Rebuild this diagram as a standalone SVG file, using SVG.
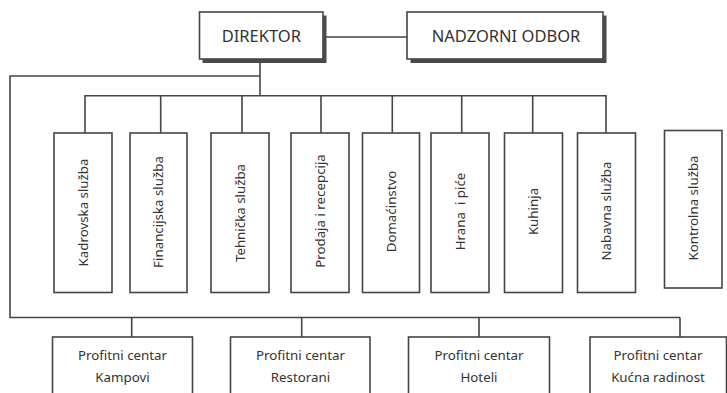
<svg xmlns="http://www.w3.org/2000/svg" width="727" height="393" viewBox="0 0 727 393">
<style>
.box{fill:#fff;stroke:#454545;stroke-width:1.6}
.shadow{fill:#4a4a4a}
.line{fill:none;stroke:#454545;stroke-width:1.6}
text{font-family:"Noto Sans","Open Sans","Liberation Sans",sans-serif;fill:#333}
.top{font-size:16.5px;text-anchor:middle}
.v{font-size:13.3px;text-anchor:middle}
.pc{font-size:13.3px;text-anchor:middle}
</style>
<rect width="727" height="393" fill="#fff"/>
<g id="connectors">
<path class="line" d="M323 37H407"/>
<path class="line" d="M260 59V95.7"/>
<path class="line" d="M260 76H10V317.5H680"/>
<path class="line" d="M85 133V95.7H606V133"/>
<path class="line" d="M160.7 95.7V133M242 95.7V133M321 95.7V133M392.3 95.7V133M461.7 95.7V133M532.7 95.7V133"/>
<path class="line" d="M131.7 317.5V337M301.7 317.5V337M479 317.5V337M680 317.5V337"/>
</g>
<g id="direktor">
<rect class="shadow" x="202.5" y="15.5" width="124" height="47.5"/>
<rect class="box" x="199.5" y="12" width="123.5" height="47"/>
<text class="top" x="261.3" y="41.5">DIREKTOR</text>
</g>
<g id="nadzorni-odbor">
<rect class="shadow" x="410.5" y="15.5" width="196" height="47.5"/>
<rect class="box" x="407" y="12" width="196" height="47"/>
<text class="top" x="506" y="41.5">NADZORNI ODBOR</text>
</g>
<g id="kadrovska">
<rect class="box" x="54" y="133" width="58" height="159.5"/>
<text class="v" transform="translate(88 212.5) rotate(-90)">Kadrovska služba</text>
</g>
<g id="financijska">
<rect class="box" x="130" y="133" width="57" height="159.5"/>
<text class="v" transform="translate(163 212) rotate(-90)">Financijska služba</text>
</g>
<g id="tehnicka">
<rect class="box" x="211" y="133" width="58" height="159.5"/>
<text class="v" transform="translate(244.5 213) rotate(-90)">Tehnička služba</text>
</g>
<g id="prodaja">
<rect class="box" x="291" y="133" width="58" height="159.5"/>
<text class="v" transform="translate(324.5 211) rotate(-90)">Prodaja i recepcija</text>
</g>
<g id="domacinstvo">
<rect class="box" x="362.5" y="133" width="57" height="159.5"/>
<text class="v" transform="translate(395.5 211.5) rotate(-90)">Domaćinstvo</text>
</g>
<g id="hrana">
<rect class="box" x="431" y="133" width="58" height="159.5"/>
<text class="v" transform="translate(464.5 211.5) rotate(-90)" xml:space="preserve">Hrana  i piće</text>
</g>
<g id="kuhinja">
<rect class="box" x="504.5" y="133" width="58" height="159.5"/>
<text class="v" transform="translate(538 211.5) rotate(-90)">Kuhinja</text>
</g>
<g id="nabavna">
<rect class="box" x="577.5" y="133" width="58" height="159.5"/>
<text class="v" transform="translate(611 211) rotate(-90)">Nabavna služba</text>
</g>
<g id="kontrolna">
<rect class="box" x="664.5" y="130.5" width="57.5" height="157.5"/>
<text class="v" transform="translate(697.5 208) rotate(-90)">Kontrolna služba</text>
</g>
<g id="pc-kampovi">
<rect class="box" x="52.5" y="337" width="140" height="70"/>
<text class="pc" x="122.5" y="359.5">Profitni centar</text>
<text class="pc" x="122.5" y="381.5">Kampovi</text>
</g>
<g id="pc-restorani">
<rect class="box" x="230.5" y="337" width="139.5" height="70"/>
<text class="pc" x="300.5" y="359.5">Profitni centar</text>
<text class="pc" x="300.5" y="381.5">Restorani</text>
</g>
<g id="pc-hoteli">
<rect class="box" x="408.5" y="337" width="141" height="70"/>
<text class="pc" x="479" y="359.5">Profitni centar</text>
<text class="pc" x="479" y="381.5">Hoteli</text>
</g>
<g id="pc-kucna">
<rect class="box" x="590" y="337" width="136.5" height="70"/>
<text class="pc" x="658" y="359.5">Profitni centar</text>
<text class="pc" x="658" y="381.5">Kućna radinost</text>
</g>
</svg>
